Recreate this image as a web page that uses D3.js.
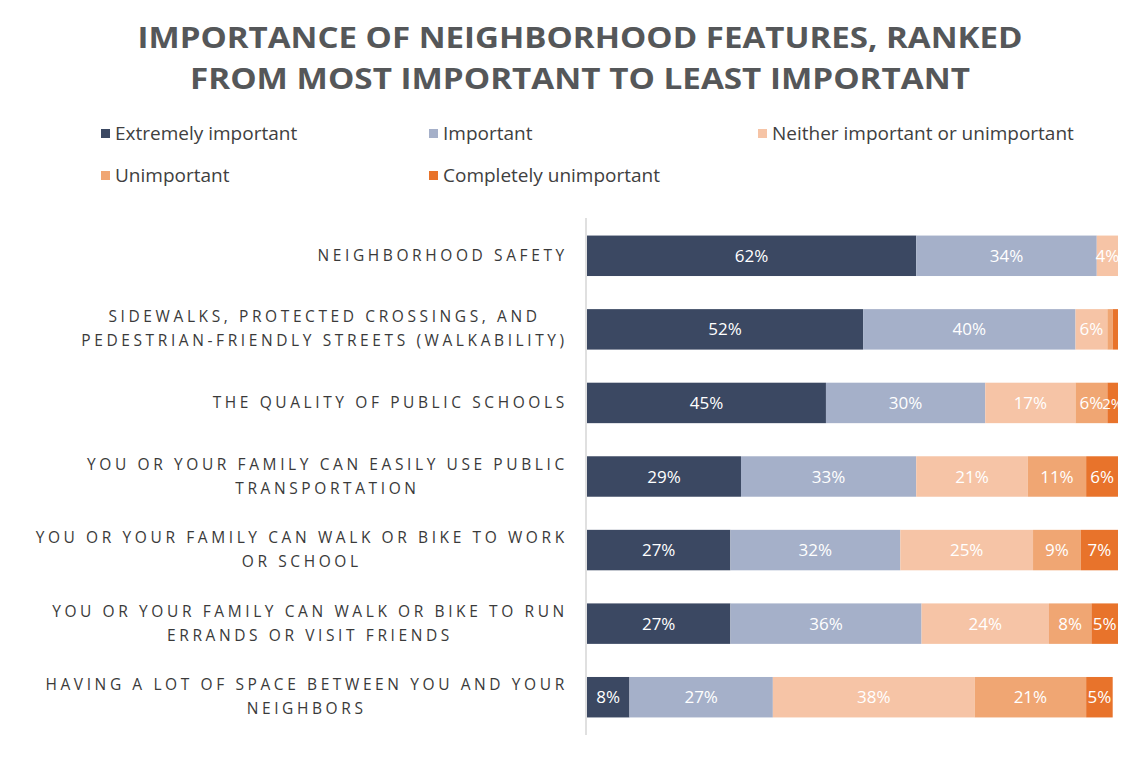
<!DOCTYPE html>
<html>
<head>
<meta charset="utf-8">
<script src="https://cdn.jsdelivr.net/npm/d3@7"></script>
<style>
  html, body { margin: 0; padding: 0; background: #ffffff; }
  svg { display: block; }
</style>
</head>
<body>
<svg id="chart" width="1138" height="763"></svg>
<script>
// Survey features, in ranked order (top to bottom)
const categories = [
  ["NEIGHBORHOOD SAFETY"],
  ["SIDEWALKS, PROTECTED CROSSINGS, AND", "PEDESTRIAN-FRIENDLY STREETS (WALKABILITY)"],
  ["THE QUALITY OF PUBLIC SCHOOLS"],
  ["YOU OR YOUR FAMILY CAN EASILY USE PUBLIC", "TRANSPORTATION"],
  ["YOU OR YOUR FAMILY CAN WALK OR BIKE TO WORK", "OR SCHOOL"],
  ["YOU OR YOUR FAMILY CAN WALK OR BIKE TO RUN", "ERRANDS OR VISIT FRIENDS"],
  ["HAVING A LOT OF SPACE BETWEEN YOU AND YOUR", "NEIGHBORS"]
];

const seriesNames = [
  "Extremely important",
  "Important",
  "Neither important or unimportant",
  "Unimportant",
  "Completely unimportant"
];

// Percent of respondents per answer, one array per series
const extremelyImportant    = [62, 52, 45, 29, 27, 27, 8];
const important             = [34, 40, 30, 33, 32, 36, 27];
const neither               = [4, 6, 17, 21, 25, 24, 38];
const unimportant           = [0, 1, 6, 11, 9, 8, 21];
const completelyUnimportant = [0, 1, 2, 6, 7, 5, 5];

const xTicks = [0, 100];

const colors = ["#3b4862", "#a5b0c9", "#f6c4a6", "#f0a673", "#e8732b"];
const title = [
  "IMPORTANCE OF NEIGHBORHOOD FEATURES, RANKED",
  "FROM MOST IMPORTANT TO LEAST IMPORTANT"
];

const seriesValues = [extremelyImportant, important, neither, unimportant, completelyUnimportant];
const rows = categories.map((c, i) => {
  const r = { key: i };
  seriesNames.forEach((s, j) => { r[s] = seriesValues[j][i]; });
  return r;
});
const stacked = d3.stack().keys(seriesNames)(rows);

const svg = d3.select("#chart");
const font = "'Open Sans', 'Noto Sans', sans-serif";

// Title
const titleG = svg.append("g");
const titleWidths = [885, 780];
title.forEach((t, i) => {
  titleG.append("text")
    .attr("x", 580)
    .attr("y", 48 + i * 41)
    .attr("text-anchor", "middle")
    .attr("font-family", font)
    .attr("font-weight", 700)
    .attr("font-size", 29)
    .attr("fill", "#555759")
    .attr("textLength", titleWidths[i])
    .attr("lengthAdjust", "spacingAndGlyphs")
    .text(t);
});

// Legend
const legendPos = [
  [101, 133], [429, 133], [758, 133],
  [101, 175], [429, 175]
];
const legend = svg.append("g");
seriesNames.forEach((s, i) => {
  const [lx, ly] = legendPos[i];
  legend.append("rect")
    .attr("x", lx).attr("y", ly - 4)
    .attr("width", 9).attr("height", 9)
    .attr("fill", colors[i]);
  legend.append("text")
    .attr("x", lx + 14).attr("y", ly + 7)
    .attr("font-family", font)
    .attr("font-size", 19)
    .attr("fill", "#404040")
    .text(s);
});

// Scales
const x = d3.scaleLinear().domain([0, 100]).range([587, 1118]);
const y = d3.scaleBand()
  .domain(categories.map((c, i) => i))
  .range([219, 734])
  .paddingInner(0.45)
  .paddingOuter(0.225);

// Vertical axis line
const yAxis = d3.axisLeft(y).tickSize(0).tickFormat("");
svg.append("g")
  .attr("transform", `translate(${x(xTicks[0]) - 1},0)`)
  .call(yAxis)
  .call(g => g.select(".domain").attr("stroke", "#d6d6d6").attr("stroke-width", 1.5)
    .attr("d", "M0,218V735"));

// Category labels: multi-line, lines centred on each other, block right-aligned
const labelG = svg.append("g");
categories.forEach((lines, i) => {
  const g = labelG.append("g");
  const cy = y(i) + y.bandwidth() / 2;
  const lh = 24;
  const ls = 3.6;
  const texts = lines.map((ln, k) => g.append("text")
    .attr("y", cy + (k - (lines.length - 1) / 2) * lh + 5)
    .attr("text-anchor", "middle")
    .attr("font-family", font)
    .attr("font-size", 15.5)
    .attr("letter-spacing", ls)
    .attr("fill", "#3a3a3a")
    .text(ln));
  const maxW = d3.max(texts, t => t.node().getComputedTextLength());
  texts.forEach(t => t.attr("x", 566 - maxW / 2 + ls / 2));
});

// Bars
const layers = svg.append("g").selectAll("g")
  .data(stacked)
  .join("g")
  .attr("fill", (d, i) => colors[i]);

layers.selectAll("rect")
  .data(d => d)
  .join("rect")
  .attr("x", d => x(d[0]))
  .attr("width", d => x(d[1]) - x(d[0]))
  .attr("y", d => y(d.data.key))
  .attr("height", y.bandwidth());

// Value labels
layers.selectAll("text")
  .data(d => d.filter(v => v[1] - v[0] >= 2))
  .join("text")
  .attr("x", d => (x(d[0]) + x(d[1])) / 2)
  .attr("y", d => y(d.data.key) + y.bandwidth() / 2 + 6)
  .attr("text-anchor", "middle")
  .attr("font-family", font)
  .attr("font-size", d => (d[1] - d[0]) < 4 ? 15 : 17)
  .attr("fill", "#ffffff")
  .text(d => (d[1] - d[0]) + "%");
</script>
</body>
</html>
